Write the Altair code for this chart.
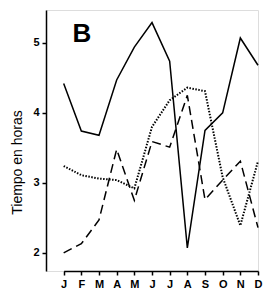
import altair as alt
import pandas as pd

months = ["J", "F", "M", "A", "M", "J", "J", "A", "S", "O", "N", "D"]
solid = [4.42, 3.74, 3.68, 4.47, 4.94, 5.29, 4.74, 2.07, 3.75, 4.00, 5.07, 4.68]
dashed = [2.00, 2.13, 2.47, 3.48, 2.75, 3.59, 3.51, 4.25, 2.76, 3.04, 3.31, 2.36]
dotted = [3.24, 3.11, 3.06, 3.04, 2.92, 3.80, 4.18, 4.36, 4.31, 3.08, 2.39, 3.31]

rows = []
for name, vals in [("solid", solid), ("dashed", dashed), ("dotted", dotted)]:
    for i, v in enumerate(vals):
        rows.append({"serie": name, "i": i, "v": v})
df = pd.DataFrame(rows)

label_expr = "[" + ",".join("'%s'" % m for m in months) + "][datum.value]"

W = 212
x = alt.X("i:O", scale=alt.Scale(type="point", range=[W / 12, W], padding=0),
          axis=alt.Axis(labelExpr=label_expr, title=None, labelAngle=0,
                        grid=False, domainColor="black", domainWidth=1.5,
                        tickColor="black", tickWidth=1.5, tickSize=4,
                        labelOverlap=False,
                        labelFont="Liberation Sans", labelFontWeight="bold",
                        labelFontSize=11, labelColor="black", labelPadding=3))
y = alt.Y("v:Q", scale=alt.Scale(domain=[1.74, 5.47], nice=False, zero=False),
          axis=alt.Axis(values=[2, 3, 4, 5], format="d", title="Tiempo en horas",
                        grid=False, domainColor="black", domainWidth=1.5,
                        tickColor="black", tickWidth=1.5, tickSize=4,
                        labelOverlap=False,
                        labelFont="Liberation Sans", labelFontWeight="bold",
                        labelFontSize=11, labelColor="black", labelPadding=3,
                        titleFont="Liberation Sans", titleFontWeight="normal",
                        titleFontSize=14, titleColor="black", titlePadding=8,
                        titleY=152))

base = alt.Chart(df)
l_solid = base.transform_filter(alt.datum.serie == "solid").mark_line(
    color="black", strokeWidth=1.5).encode(x=x, y=y)
l_dashed = base.transform_filter(alt.datum.serie == "dashed").mark_line(
    color="black", strokeWidth=1.5, strokeDash=[9, 5]).encode(x=x, y=y)
l_dotted = base.transform_filter(alt.datum.serie == "dotted").mark_line(
    color="black", strokeWidth=2, strokeDash=[1.5, 1.5]).encode(x=x, y=y)

lab = pd.DataFrame({"v": [5.12], "t": ["B"]})
t = alt.Chart(lab).mark_text(fontSize=26, fontWeight="bold", font="Liberation Sans",
                             color="black", baseline="middle", align="center").encode(
    x=alt.value(36), y=alt.Y("v:Q"), text="t:N")

chart = alt.layer(l_solid, l_dashed, l_dotted, t).properties(
    width=W, height=261,
    autosize=alt.AutoSizeParams(type="none"),
    padding={"left": 46, "top": 10, "right": 17, "bottom": 25},
).configure_view(stroke=None).configure(background="white")

chart.save("out.html", embed_options={"renderer": "svg", "actions": False})
